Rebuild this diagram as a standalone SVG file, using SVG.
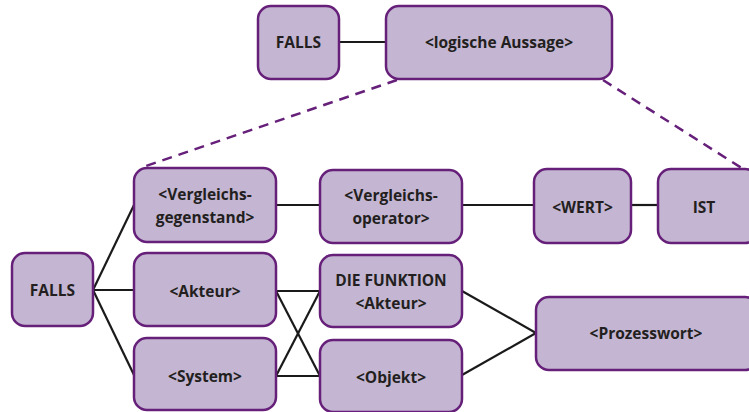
<svg xmlns="http://www.w3.org/2000/svg" width="749" height="412" viewBox="0 0 749 412">
<style>
.n rect{fill:#c4b6d2;stroke:#66207a;stroke-width:2.5}
.n text{font-family:"Open Sans","Liberation Sans",sans-serif;font-weight:bold;font-size:15.5px;fill:#231f20;text-anchor:middle}
.c line{stroke:#1a1a1a;stroke-width:2.2}
.c .d{stroke:#66207a;stroke-width:2.5;stroke-dasharray:10 7}
</style>
<rect width="749" height="412" fill="#fff"/>
<g class="c">
<line x1="338" y1="42" x2="386" y2="42"/>
<line class="d" x1="397" y1="80" x2="146" y2="166"/>
<line class="d" x1="603" y1="80" x2="748" y2="172"/>
<line x1="93" y1="290" x2="134" y2="205"/>
<line x1="93" y1="290" x2="134" y2="290"/>
<line x1="93" y1="290" x2="134" y2="375"/>
<line x1="276" y1="205" x2="320" y2="205"/>
<line x1="462" y1="205" x2="534" y2="205"/>
<line x1="631" y1="205" x2="658" y2="205"/>
<line x1="276" y1="291" x2="320" y2="291"/>
<line x1="276" y1="291" x2="320" y2="376"/>
<line x1="276" y1="376" x2="320" y2="291"/>
<line x1="276" y1="376" x2="320" y2="376"/>
<line x1="462" y1="291" x2="536" y2="333"/>
<line x1="462" y1="375" x2="536" y2="333"/>
</g>
<g id="falls-top" class="n"><rect x="258" y="6" width="81" height="73" rx="13"/><text x="298.5" y="48">FALLS</text></g>
<g id="logische-aussage" class="n"><rect x="386" y="6" width="226" height="73" rx="13"/><text x="499" y="48">&lt;logische Aussage&gt;</text></g>
<g id="falls-left" class="n"><rect x="12" y="253" width="81" height="73" rx="13"/><text x="52.5" y="296">FALLS</text></g>
<g id="vergleichsgegenstand" class="n"><rect x="134" y="168" width="142" height="74" rx="13"/><text x="205" y="200">&lt;Vergleichs-</text><text x="205" y="223">gegenstand&gt;</text></g>
<g id="vergleichsoperator" class="n"><rect x="320" y="170" width="142" height="73" rx="13"/><text x="391" y="201">&lt;Vergleichs-</text><text x="391" y="224">operator&gt;</text></g>
<g id="wert" class="n"><rect x="534" y="169" width="97" height="74" rx="13"/><text x="582.5" y="213">&lt;WERT&gt;</text></g>
<g id="ist" class="n"><rect x="658" y="169" width="100" height="74" rx="13"/><text x="704" y="213">IST</text></g>
<g id="akteur" class="n"><rect x="134" y="253" width="142" height="73" rx="13"/><text x="205" y="297">&lt;Akteur&gt;</text></g>
<g id="die-funktion" class="n"><rect x="320" y="255" width="142" height="72" rx="13"/><text x="391" y="286">DIE FUNKTION</text><text x="391" y="309">&lt;Akteur&gt;</text></g>
<g id="system" class="n"><rect x="134" y="338" width="142" height="72" rx="13"/><text x="205" y="382">&lt;System&gt;</text></g>
<g id="objekt" class="n"><rect x="320" y="340" width="142" height="72" rx="13"/><text x="391" y="383">&lt;Objekt&gt;</text></g>
<g id="prozesswort" class="n"><rect x="536" y="297" width="222" height="73" rx="13"/><text x="646" y="339">&lt;Prozesswort&gt;</text></g>
</svg>
